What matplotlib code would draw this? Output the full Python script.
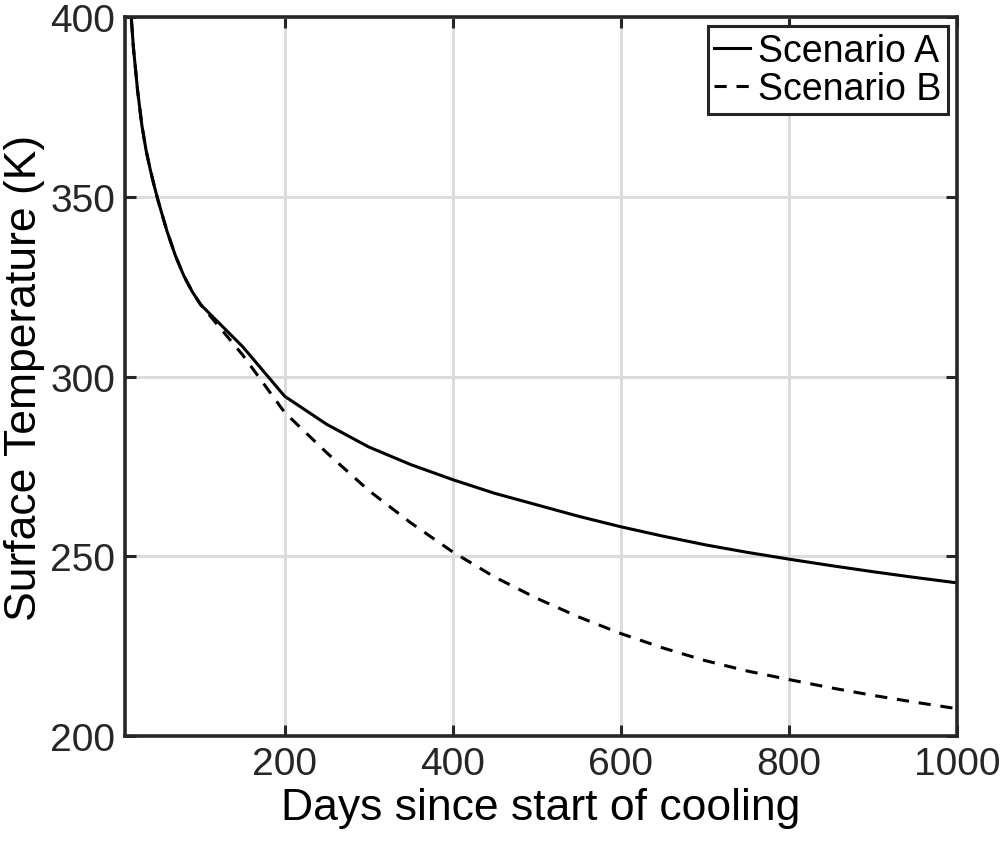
import matplotlib
matplotlib.use("Agg")
import matplotlib.pyplot as plt

days = [10, 15, 20, 25, 30, 35, 40, 45, 50, 60, 70, 80, 90, 100, 150, 200, 250,
        300, 350, 400, 450, 500, 550, 600, 650, 700, 750, 800, 850, 900, 950, 1000]
temp_a = [430, 408, 391.5, 379.5, 370, 363, 357.6, 352.8, 348.4, 340.4, 333.6, 328,
          323.6, 320, 308.3, 294.5, 286.7, 280.4, 275.5, 271.3, 267.5, 264.3,
          261.1, 258.2, 255.6, 253.2, 251.1, 249.2, 247.4, 245.7, 244.1, 242.6]
temp_b = [430, 408, 391.5, 379.5, 370, 363, 357.6, 352.8, 348.4, 340.4, 333.6, 328,
          323.6, 320, 306, 290, 278.8, 268.3, 259.3, 251.2, 244.2, 238.3, 233.1,
          228.5, 224.5, 221, 218.1, 215.7, 213.4, 211.3, 209.4, 207.6]
labels = ["Scenario A", "Scenario B"]
xticks = [200, 400, 600, 800, 1000]
yticks = [200, 250, 300, 350, 400]

plt.rcParams['font.family'] = ['Liberation Sans', 'DejaVu Sans']
fig = plt.figure(figsize=(10, 8.45), dpi=100)
ax = fig.add_axes([0.125, 1 - 737 / 845, 0.832, 719 / 845])

dark = '#262626'
ax.plot(days, temp_a, color='black', lw=2.2, label=labels[0])
ax.plot(days, temp_b, color='black', lw=2.2, linestyle=(0, (4, 3.2)), label=labels[1])

ax.set_xlim(10, 1000)
ax.set_ylim(200, 400)
ax.set_xticks(xticks)
ax.set_yticks(yticks)
ax.grid(True, color='#dcdcdc', lw=2.2)
ax.set_axisbelow(True)
ax.tick_params(direction='in', length=8, width=2.2, colors=dark, labelsize=28,
               top=True, right=True, pad=7)
for s in ax.spines.values():
    s.set_linewidth(2.6)
    s.set_color(dark)
ax.set_xlabel("Days since start of cooling", fontsize=32, color='black', labelpad=4)
ax.set_ylabel("Surface Temperature (K)", fontsize=32, color='black', labelpad=4)

leg = ax.legend(loc='upper right', fontsize=27, frameon=True, fancybox=False,
                handlelength=0.95, handletextpad=0.2, borderpad=0.18,
                labelspacing=0.05, borderaxespad=0.25, framealpha=1)
leg.get_frame().set_edgecolor(dark)
leg.get_frame().set_linewidth(2.2)

fig.savefig("out.png", dpi=100)
